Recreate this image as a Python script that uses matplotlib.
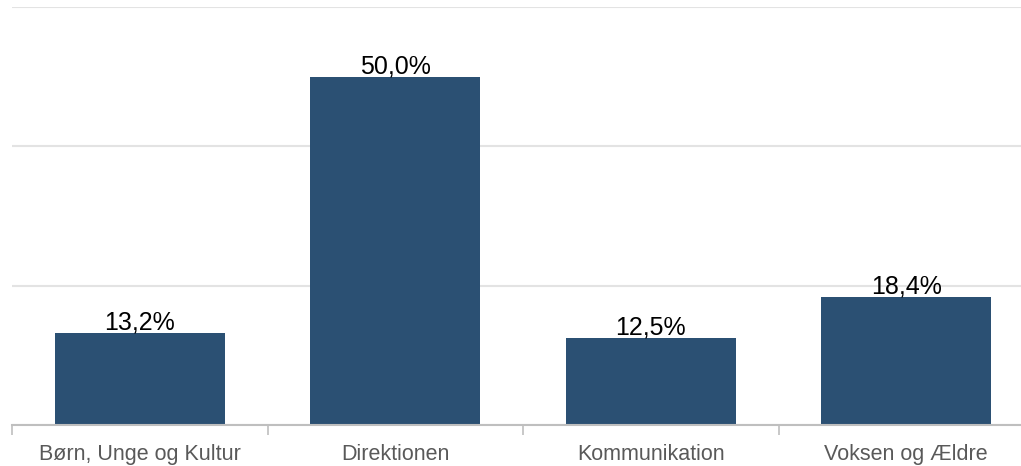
import matplotlib.pyplot as plt

# Data
categories = ["Børn, Unge og Kultur", "Direktionen", "Kommunikation", "Voksen og Ældre"]
values = [13.2, 50.0, 12.5, 18.4]
labels = ["13,2%", "50,0%", "12,5%", "18,4%"]

plt.rcParams["font.family"] = ["Liberation Sans", "DejaVu Sans"]

fig = plt.figure(figsize=(10.21, 4.66), dpi=100)
W, H = 1021, 466
ax = fig.add_axes([12 / W, 41 / H, 1022 / W, 418 / H])

x = list(range(len(categories)))
ax.bar(x, values, width=0.667, color="#2B5073", zorder=3)

for xi, v, lab in zip(x, values, labels):
    ax.text(xi, v - 0.2, lab, ha="center", va="bottom", fontsize=18, color="black", zorder=4)

ax.set_xlim(-0.5, len(categories) - 0.5)
ax.set_ylim(0, 60)
ax.set_yticks([0, 20, 40, 60])
ax.yaxis.grid(True, color="#e3e3e3", linewidth=1.5, zorder=0)
ax.tick_params(axis="y", left=False, labelleft=False)

# category ticks sit between bars
ax.set_xticks([-0.5, 0.5, 1.5, 2.5, 3.5])
ax.set_xticklabels([])
ax.set_xticks(x, minor=True)
ax.set_xticklabels(categories, minor=True, fontsize=15.5, color="#595959")
ax.tick_params(axis="x", which="major", length=7, color="#bfbfbf", width=1.2)
ax.tick_params(axis="x", which="minor", length=0, pad=14)

for s in ["top", "right", "left"]:
    ax.spines[s].set_visible(False)
ax.spines["bottom"].set_color("#bfbfbf")
ax.spines["bottom"].set_linewidth(1.5)
ax.spines["bottom"].set_zorder(5)

fig.savefig("out.png", dpi=100)
